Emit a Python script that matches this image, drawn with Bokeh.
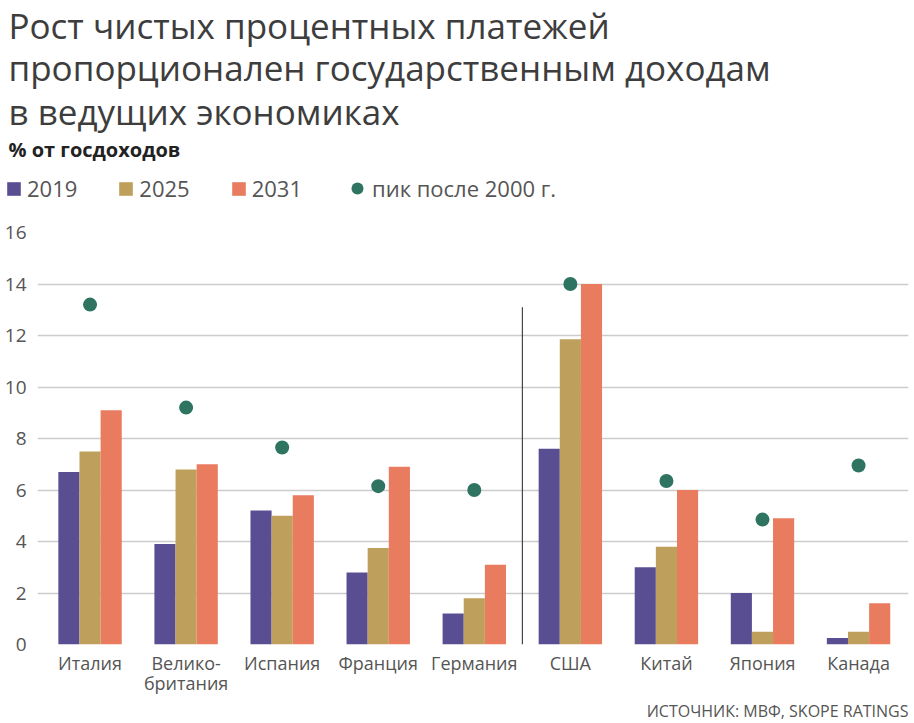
from bokeh.plotting import figure
from bokeh.models import (ColumnDataSource, Range1d, Label, Legend, LegendItem, FixedTicker)
from bokeh.layouts import column
from bokeh.transform import dodge
from bokeh.embed import file_html
from bokeh.resources import INLINE

countries = ["Италия", "Велико-\nбритания", "Испания", "Франция", "Германия",
             "США", "Китай", "Япония", "Канада"]
v2019 = [6.7, 3.9, 5.2, 2.8, 1.2, 7.6, 3.0, 2.0, 0.25]
v2025 = [7.5, 6.8, 5.0, 3.75, 1.8, 11.85, 3.8, 0.5, 0.5]
v2031 = [9.1, 7.0, 5.8, 6.9, 3.1, 14.0, 6.0, 4.9, 1.6]
peak = [13.2, 9.2, 7.65, 6.15, 6.0, 14.0, 6.35, 4.85, 6.95]
years = ["2019", "2025", "2031"]
peak_label = "пик после 2000 г."
y_ticks = [0, 2, 4, 6, 8, 10, 12, 14, 16]
separator_index = 4.5   # between Германия and США
separator_top = 13.1

title_lines = ["Рост чистых процентных платежей",
               "пропорционален государственным доходам",
               "в ведущих экономиках"]
subtitle = "% от госдоходов"
source_text = "ИСТОЧНИК: МВФ, SKOPE RATINGS"

C2019 = "#5a4e92"
C2025 = "#bea05c"
C2031 = "#e97b5f"
CPEAK = "#2e7461"
FONT = "Open Sans"
TXT = "#555555"

pos = list(range(len(countries)))
src = ColumnDataSource(dict(pos=pos, v2019=v2019, v2025=v2025, v2031=v2031, peak=peak))
bw = 0.22


def add_series(fig, visible=True):
    rs = []
    for col, off, colr in (("v2019", -bw, C2019), ("v2025", 0, C2025), ("v2031", bw, C2031)):
        rs.append(fig.vbar(x=dodge("pos", off), top=col, width=bw, source=src,
                           fill_color=colr, line_color=None, visible=visible))
    rs.append(fig.scatter(x="pos", y="peak", source=src, size=14, marker="circle",
                          fill_color=CPEAK, line_color=None, visible=visible))
    return rs


# ---------------- main chart ----------------
p = figure(width=914, height=485, output_backend="svg", toolbar_location=None,
           x_range=Range1d(-0.547, 8.52), y_range=Range1d(0, 16),
           min_border_left=37, min_border_right=6, min_border_top=20,
           min_border_bottom=52, frame_align=False)
p.outline_line_color = None
add_series(p)

sep = ColumnDataSource(dict(x=[separator_index], y0=[0], y1=[separator_top]))
p.segment(x0="x", x1="x", y0="y0", y1="y1", source=sep, line_color="#222222", line_width=1)

p.yaxis.ticker = FixedTicker(ticks=y_ticks)
p.yaxis.axis_line_color = None
p.yaxis.major_tick_line_color = None
p.yaxis.minor_tick_line_color = None
p.yaxis.major_label_text_font = FONT
p.yaxis.major_label_text_font_size = "19px"
p.yaxis.major_label_text_color = TXT
p.yaxis.major_label_standoff = 5
p.ygrid.ticker = FixedTicker(ticks=y_ticks)
p.ygrid.grid_line_color = "#cccccc"
p.ygrid.grid_line_width = 1.5
p.xgrid.grid_line_color = None

p.xaxis.ticker = FixedTicker(ticks=pos)
p.xaxis.axis_line_color = None
p.xaxis.major_tick_line_color = None
p.xaxis.minor_tick_line_color = None
p.xaxis.major_tick_out = 0
p.xaxis.major_tick_in = 0
p.xaxis.major_label_text_font = FONT
p.xaxis.major_label_text_font_size = "18px"
p.xaxis.major_label_text_color = TXT
p.xaxis.major_label_text_line_height = 0.85
p.xaxis.major_label_standoff = 6
p.xaxis.major_label_overrides = {i: c for i, c in zip(pos, countries)}

# ---------------- header: title, subtitle, legend ----------------
h = figure(width=914, height=212, output_backend="svg", toolbar_location=None,
           x_range=Range1d(-0.547, 8.52), y_range=Range1d(0, 16),
           x_axis_type=None, y_axis_type=None, frame_align=False,
           min_border_left=0, min_border_right=0, min_border_top=0, min_border_bottom=0)
h.outline_line_color = None
h.grid.grid_line_color = None
hr = add_series(h, visible=False)   # legend swatches only (renderers hidden)

for txt, yy in zip(title_lines, [187, 145, 101]):
    h.add_layout(Label(x=8, y=yy, x_units="screen", y_units="screen", text=txt,
                       text_font=FONT, text_font_size="35px", text_color="#3d3d3d",
                       text_baseline="alphabetic", text_align="left"))
h.add_layout(Label(x=8, y=63, x_units="screen", y_units="screen", text=subtitle,
                   text_font=FONT, text_font_size="20px", text_font_style="bold",
                   text_color="#222222", text_baseline="alphabetic"))

leg = Legend(items=[LegendItem(label=years[i], renderers=[hr[i]]) for i in range(3)],
             orientation="horizontal", location=(5, 9),
             glyph_width=17, glyph_height=17, label_standoff=5, spacing=40,
             padding=0, margin=0, background_fill_alpha=0, border_line_alpha=0,
             inactive_fill_alpha=0,
             label_text_font=FONT, label_text_font_size="22px",
             label_text_color=TXT, label_height=17)
h.add_layout(leg)
leg2 = Legend(items=[LegendItem(label=peak_label, renderers=[hr[3]])],
              orientation="horizontal", location=(342, 9),
              glyph_width=30, glyph_height=30, label_standoff=-5, spacing=0,
              padding=0, margin=0, background_fill_alpha=0, border_line_alpha=0,
              inactive_fill_alpha=0,
              label_text_font=FONT, label_text_font_size="22px",
              label_text_color=TXT)
h.add_layout(leg2)

# ---------------- footer: source ----------------
f = figure(width=914, height=26, output_backend="svg", toolbar_location=None,
           x_range=Range1d(0, 1), y_range=Range1d(0, 1),
           x_axis_type=None, y_axis_type=None, frame_align=False,
           min_border_left=0, min_border_right=0, min_border_top=0, min_border_bottom=0)
f.outline_line_color = None
f.grid.grid_line_color = None
f.add_layout(Label(x=908, y=13, x_units="screen", y_units="screen", text=source_text,
                   text_font=FONT, text_font_size="16px", text_color=TXT,
                   text_baseline="alphabetic", text_align="right"))

layout = column(h, p, f, spacing=0)
open("out.html", "w").write(file_html(layout, INLINE))
